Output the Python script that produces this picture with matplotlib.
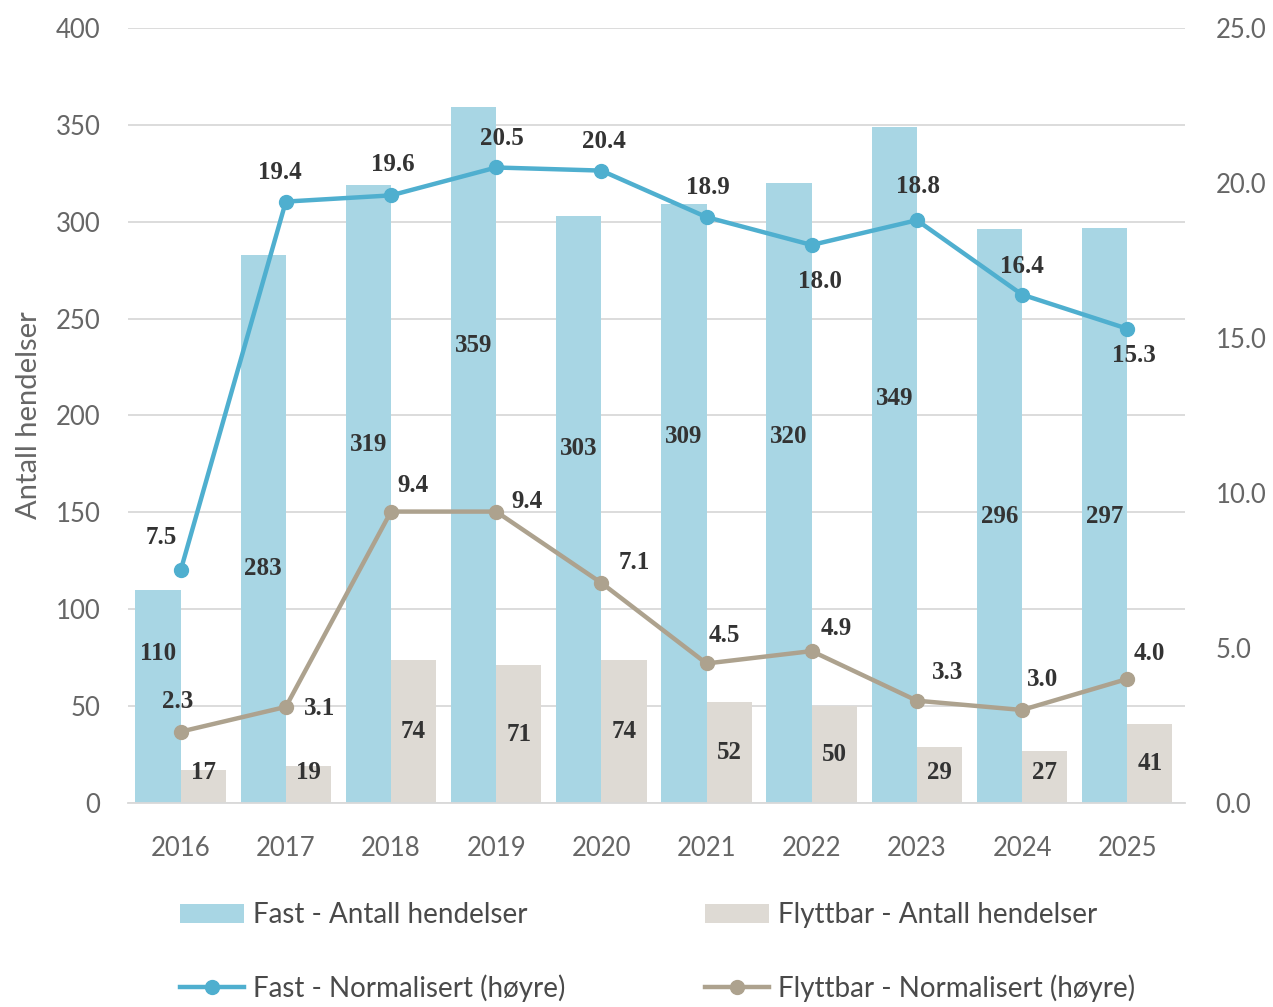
import matplotlib
matplotlib.use("Agg")
from matplotlib import pyplot as plt
import numpy as np

# data
years = ["2016", "2017", "2018", "2019", "2020", "2021", "2022", "2023", "2024", "2025"]
fast_count = [110, 283, 319, 359, 303, 309, 320, 349, 296, 297]
flytt_count = [17, 19, 74, 71, 74, 52, 50, 29, 27, 41]
fast_norm = [7.5, 19.4, 19.6, 20.5, 20.4, 18.9, 18.0, 18.8, 16.4, 15.3]
flytt_norm = [2.3, 3.1, 9.4, 9.4, 7.1, 4.5, 4.9, 3.3, 3.0, 4.0]

# colours
c_fast_bar = "#A8D6E4"
c_flytt_bar = "#DEDAD4"
c_fast_line = "#4FAFCF"
c_flytt_line = "#ADA28E"
c_grid = "#D9D9D9"
c_tick = "#666666"
c_leg = "#4A4A4A"
c_lab = "#333333"

plt.rcParams["font.family"] = ["Lato", "DejaVu Sans"]

fig = plt.figure(figsize=(12.73, 10.07), dpi=100)
ax = fig.add_axes([0.1006, 0.2026, 0.8303, 0.7696])
ax2 = ax.twinx()

x = np.arange(len(years))
w = 0.43
ax.bar(x - w / 2, fast_count, w, color=c_fast_bar, label="Fast - Antall hendelser", zorder=2)
ax.bar(x + w / 2, flytt_count, w, color=c_flytt_bar, label="Flyttbar - Antall hendelser", zorder=2)

ax.set_xlim(-0.5, 9.55)
ax.set_ylim(0, 400)
ax.set_yticks(range(0, 401, 50))
ax.set_xticks(x)
ax.set_xticklabels(years)
ax.grid(axis="y", color=c_grid, lw=1.3, zorder=0)
ax.set_axisbelow(True)
for s in ["top", "left", "right"]:
    ax.spines[s].set_visible(False)
    ax2.spines[s].set_visible(False)
ax.spines["bottom"].set_color(c_grid)
ax.spines["bottom"].set_linewidth(1.3)
ax2.spines["bottom"].set_visible(False)
ax.tick_params(length=0, labelsize=18.5, labelcolor=c_tick, pad=24)
ax.tick_params(axis="y", pad=20)
ax.set_ylabel("Antall hendelser", fontsize=21, color=c_tick, labelpad=10)

ax2.plot(x, fast_norm, color=c_fast_line, lw=3.2, marker="o", ms=10, label="Fast - Normalisert (høyre)", zorder=5)
ax2.plot(x, flytt_norm, color=c_flytt_line, lw=3.2, marker="o", ms=10, label="Flyttbar - Normalisert (høyre)", zorder=5)
ax2.set_ylim(0, 25)
ax2.set_yticks(np.arange(0, 25.1, 5))
ax2.set_yticklabels([f"{v:.1f}" for v in np.arange(0, 25.1, 5)])
ax2.tick_params(length=0, labelsize=18.5, labelcolor=c_tick, pad=22)

lab_font = dict(fontsize=18, fontweight="bold", color=c_lab, family=["Liberation Serif", "DejaVu Serif"])

# bar labels (fast labels were placed by hand in the source, so the heights are kept here)
fast_lab_y = [77, 121, 185, 236, 183, 189, 189, 209, 148, 148]
for i, v in enumerate(fast_count):
    ax.text(x[i] - w / 2, fast_lab_y[i], str(v), ha="center", va="center", zorder=6, **lab_font)
for i, v in enumerate(flytt_count):
    ax.text(x[i] + w / 2, max(v / 2, 15.5), str(v), ha="center", va="center", zorder=6, **lab_font)

# line labels, offsets in points
fast_off = [(-14, 24), (-4, 21), (1, 22), (4, 21), (2, 21), (1, 21), (6, -26), (1, 24), (0, 20), (5, -19)]
flytt_off = [(-2, 22), (24, -1), (16, 19), (22, 7), (24, 15), (13, 20), (18, 16), (22, 20), (15, 22), (16, 18)]
for i, v in enumerate(fast_norm):
    ax2.annotate(f"{v:.1f}", (x[i], v), xytext=fast_off[i], textcoords="offset points",
                 ha="center", va="center", zorder=7, **lab_font)
for i, v in enumerate(flytt_norm):
    ax2.annotate(f"{v:.1f}", (x[i], v), xytext=flytt_off[i], textcoords="offset points",
                 ha="center", va="center", zorder=7, **lab_font)

h1, l1 = ax.get_legend_handles_labels()
h2, l2 = ax2.get_legend_handles_labels()
handles = [h1[0], h2[0], h1[1], h2[1]]
labels = [l1[0], l2[0], l1[1], l2[1]]
fig.legend(handles, labels, loc="upper left", bbox_to_anchor=(0.133, 0.115), ncol=2,
           frameon=False, fontsize=20, labelcolor=c_leg, handlelength=2.3,
           handletextpad=0.3, labelspacing=1.65, columnspacing=5.05, borderaxespad=0)

fig.savefig("out.png", dpi=100)
